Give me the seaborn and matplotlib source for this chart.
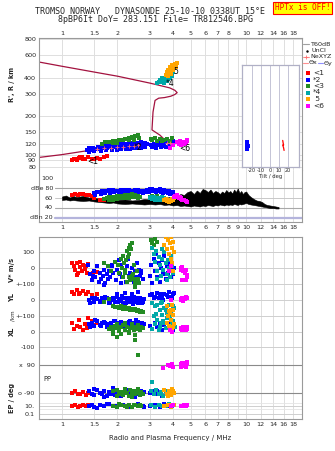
import numpy as np
import matplotlib
matplotlib.use("Agg")
import matplotlib.pyplot as plt
import seaborn as sns
from matplotlib.ticker import FixedLocator, FixedFormatter, NullLocator

sns.set_style("white")
plt.rcParams['font.family'] = ['DejaVu Sans']

# ---------------- data ----------------
xticks_main = [1, 1.5, 2, 3, 4, 5, 6, 7, 8, 10, 12, 14, 16, 18]
xticks_mid = [1, 1.5, 2, 3, 4, 5, 6, 7, 8, 9, 10, 12, 14, 16, 18]
r_ticks = [80, 90, 100, 120, 150, 200, 300, 400, 600, 800]

# true-height profile + topside model (R km vs plasma frequency MHz)
prof_f = [0.75, 1.0, 1.6, 2.0, 2.5, 3.0, 3.5, 3.75, 3.4, 3.08, 3.12, 3.2, 3.35, 3.6, 3.9, 4.1, 4.22,
          4.1, 3.85, 3.6, 3.0, 2.0, 1.6, 1.0, 0.75]
prof_h = [95, 100, 111, 114, 117, 120, 122, 124, 142, 156, 215, 265, 276, 279, 286, 295, 305,
          318, 332, 340, 362, 410, 434, 490, 529]

nexyz_f = [1.55, 1.7, 1.85, 2.0, 2.15, 2.3, 2.45, 2.6, 3.7, 3.85]
nexyz_r = [110, 112, 113, 114, 115, 116, 117, 118, 123, 124]

# virtual range R' (km)
red_f_top = [1.13, 1.16, 1.2, 1.24, 1.28, 1.3, 1.34, 1.38, 1.45, 1.5, 1.55, 1.6, 1.7, 1.75, 1.2, 1.26]
red_r_top = [91, 93, 92, 94, 95, 93, 92, 95, 93, 92, 94, 93, 96, 97, 90, 96]
blue_f_top = [1.4, 1.48, 1.56, 1.64, 1.72, 1.8, 1.88, 1.96, 2.04, 2.12, 2.2, 2.28, 2.36, 2.44, 2.52, 2.6, 2.68, 2.76, 2.84,
              1.36, 1.44, 1.52, 1.6, 1.68, 1.76, 1.84, 1.92, 2.0, 2.08, 2.16, 2.24, 2.32, 2.4, 2.48, 2.56, 2.64, 2.72, 2.8, 2.88,
              1.4, 1.5, 1.62, 1.74, 1.86, 1.98, 2.1, 2.22, 2.34, 2.46, 2.58, 2.7, 2.82,
              3.05, 3.1, 3.15, 3.2, 3.3, 3.4, 3.5, 3.6, 3.7, 3.8, 3.9, 4.0, 3.25, 3.45, 3.65, 3.85]
blue_r_top = [112, 113, 114, 116, 117, 118, 119, 120, 120, 121, 122, 122, 123, 124, 123, 124, 125, 124, 123,
              108, 109, 110, 111, 112, 113, 114, 114, 115, 116, 116, 117, 117, 118, 118, 119, 119, 120, 119, 120,
              105, 106, 107, 108, 108, 109, 110, 110, 111, 112, 112, 113, 114,
              118, 114, 122, 116, 119, 124, 117, 121, 125, 119, 126, 128, 112, 115, 114, 116]
green_f_top = [1.65, 1.72, 1.8, 1.9, 2.0, 2.05, 2.1, 2.15, 2.2, 2.25, 2.3, 2.35, 2.4, 2.45, 2.5, 2.55, 2.6, 2.62,
               2.3, 2.0, 2.45, 1.9, 3.05, 3.1, 3.2, 3.3, 3.4, 3.5, 3.6, 3.7, 3.85, 3.95]
green_r_top = [122, 126, 125, 128, 127, 130, 129, 131, 133, 132, 135, 134, 137, 136, 141, 139, 142, 136,
               130, 124, 131, 124, 133, 130, 136, 128, 132, 127, 130, 133, 128, 135]
cyan_f_top = [3.3, 3.35, 3.4, 3.45, 3.5, 3.55, 3.6, 3.65, 3.7, 3.75, 3.8, 3.85, 3.9, 3.95, 4.0, 3.6, 3.7]
cyan_r_top = [360, 372, 385, 368, 395, 378, 400, 385, 410, 392, 420, 400, 430, 415, 440, 365, 375]
orange_f_top = [3.65, 3.7, 3.75, 3.8, 3.85, 3.9, 3.95, 4.0, 4.05, 4.1, 4.15, 4.2, 3.75, 3.9]
orange_r_top = [420, 440, 460, 450, 480, 470, 500, 460, 490, 510, 480, 520, 410, 430]
mag_f_top = [4.2, 4.3, 4.35, 4.4, 4.5, 4.55, 4.6, 4.7, 4.75, 4.8, 3.85, 4.0]
mag_r_top = [125, 120, 128, 118, 122, 126, 120, 124, 130, 127, 112, 118]

# tilt inset
tilt_blue = [-26, -25, -26, -24.5, -25, -26, -25]
tilt_blue_r = [120, 118, 115, 112, 110, 107, 105]
tilt_red = [14, 14.5, 15, 14, 15, 15.5]
tilt_red_r = [124, 118, 114, 114, 108, 103]

# amplitude (dB)
noise_f = [1.0, 1.05, 1.1, 1.15, 1.2, 1.3, 1.4, 1.5, 1.6, 1.7, 1.8, 1.9, 2.0, 2.2, 2.4, 2.6, 2.8, 3.0, 3.2, 3.4,
           3.6, 3.8, 4.0, 4.2, 4.4, 4.6, 4.8, 5.0, 5.2, 5.4, 5.6, 5.8, 6.0, 6.2, 6.4, 6.6, 6.8, 7.0, 7.2, 7.4,
           7.6, 7.8, 8.0, 8.2, 8.4, 8.6, 8.8, 9.0, 9.2, 9.4, 9.6, 9.8, 10.0, 10.3, 10.6, 11.0, 11.4, 11.8, 12.2,
           12.6, 13.0, 13.5, 14.0, 14.5, 15.0]
noise_hi = [63, 65, 61, 64, 62, 64, 61, 60, 59, 58, 57, 58, 56, 57, 55, 56, 58, 57, 59, 60,
            58, 62, 60, 64, 68, 66, 72, 74, 68, 75, 70, 78, 76, 72, 77, 70, 74, 72, 68, 73,
            70, 76, 71, 74, 69, 77, 72, 79, 70, 74, 68, 72, 73, 66, 62, 58, 55, 54, 52,
            48, 46, 45, 44, 43, 42]
noise_lo = [56, 57, 55, 56, 55, 54, 55, 53, 52, 51, 50, 51, 49, 48, 49, 48, 47, 48, 47, 48,
            46, 47, 45, 46, 44, 45, 44, 43, 45, 44, 43, 45, 44, 46, 45, 44, 46, 45, 47, 46,
            45, 47, 46, 47, 46, 48, 47, 46, 48, 47, 48, 49, 50, 48, 47, 46, 45, 44, 43,
            42, 41, 40, 40, 39, 39]
red_f_db = [1.13, 1.18, 1.22, 1.26, 1.3, 1.35, 1.4, 1.45, 1.5, 1.6, 1.7]
red_db = [66, 68, 67, 69, 68, 66, 67, 65, 60, 57, 56]
blue_f_db = [1.5, 1.55, 1.6, 1.65, 1.7, 1.75, 1.8, 1.85, 1.9, 1.95, 2.0, 2.1, 2.2, 2.3, 2.4, 2.5, 2.6, 2.7, 2.8, 2.9,
             3.0, 3.1, 3.2, 3.3, 3.4, 3.5, 3.6, 3.7, 3.8, 3.9, 4.0,
             1.52, 1.62, 1.72, 1.82, 1.92, 2.05, 2.15, 2.25, 2.35, 2.45, 2.55, 2.65, 2.75, 2.85, 2.95,
             3.05, 3.15, 3.25, 3.35, 3.45, 3.55, 3.65, 3.75, 3.85, 3.95]
blue_db = [70, 72, 73, 74, 75, 74, 76, 75, 76, 74, 75, 76, 77, 76, 75, 77, 76, 75, 74, 76,
           78, 79, 77, 76, 78, 77, 76, 75, 74, 73, 72,
           67, 68, 70, 71, 72, 71, 73, 72, 74, 73, 72, 73, 71, 72, 73,
           74, 75, 73, 74, 72, 71, 73, 70, 69, 68]
green_f_db = [1.7, 1.75, 1.8, 1.85, 1.9, 1.95, 2.0, 2.05, 2.1, 2.15, 2.2, 2.25, 2.3, 2.35, 2.4, 2.45, 2.5, 2.55,
              2.6, 2.65, 1.8, 1.9, 2.0, 2.1, 2.2, 2.3, 2.4, 2.5, 2.6, 3.0, 3.1, 3.2, 3.3, 3.4, 3.5]
green_db = [58, 60, 62, 59, 63, 61, 64, 62, 65, 63, 66, 64, 67, 65, 68, 66, 67, 65,
            64, 62, 55, 57, 58, 60, 61, 60, 62, 63, 60, 63, 65, 62, 64, 60, 58]
cyan_f_db = [3.0, 3.05, 3.1, 3.15, 3.2, 3.25, 3.3, 3.35, 3.4, 3.45, 3.5, 3.55, 3.6]
cyan_db = [60, 62, 58, 63, 57, 61, 56, 60, 55, 59, 62, 57, 60]
orange_f_db = [3.6, 3.65, 3.7, 3.75, 3.8, 3.85, 3.9, 3.95, 4.0, 4.05]
orange_db = [55, 58, 54, 57, 52, 56, 53, 58, 55, 60]
mag_f_db = [4.05, 4.1, 4.15, 4.2, 4.25, 4.3, 4.35, 4.4, 4.45, 4.5, 4.6, 4.7, 4.8]
mag_db = [62, 65, 64, 66, 63, 60, 62, 58, 60, 57, 55, 54, 52]

# Doppler velocity V* (m/s)
red_f_v = [1.14, 1.16, 1.18, 1.2, 1.22, 1.25, 1.28, 1.3, 1.33, 1.35, 1.37, 1.38, 1.2, 1.26, 1.47, 1.55]
red_v = [35, 10, -15, 30, -30, 5, -20, 20, -5, 15, -35, 25, -45, 40, -30, -25]
blue_f_v = [1.38, 1.42, 1.45, 1.5, 1.52, 1.55, 1.58, 1.6, 1.63, 1.66, 1.7, 1.72, 1.75, 1.78, 1.8, 1.83, 1.86, 1.9,
            1.93, 1.96, 2.0, 2.03, 2.06, 2.1, 2.13, 2.16, 2.2, 2.23, 2.26, 2.3, 2.33, 2.36, 2.4, 2.43, 2.46, 2.5,
            2.53, 2.56, 2.6, 2.63, 2.66, 2.7, 2.74, 1.48, 1.68, 1.88, 2.08, 2.28, 2.48, 2.68,
            3.0, 3.05, 3.1, 3.15, 3.2, 3.25, 3.3, 3.35, 3.4, 3.45, 3.5, 3.55, 3.6, 3.65, 3.7, 3.75, 3.8, 3.85,
            3.9, 3.95, 4.0, 4.05]
blue_v = [20, -40, -80, -20, -60, 10, -90, -30, -70, -50, -10, -100, -40, -70, -20, -60, 10, -30,
          40, -80, -10, 50, -40, 20, -60, 30, -20, -90, 10, -50, -30, -70, 0, -40, -90, -20,
          -60, 30, -80, -10, -50, -30, -70, -50, -110, 20, -100, 60, -110, -20,
          -50, 20, -100, 60, -20, 90, -60, 30, -90, 0, 50, -40, 80, -70, 10, -30, 40, -10,
          -60, 20, -40, 0]
green_f_v = [1.7, 1.78, 1.85, 1.95, 2.02, 2.08, 2.12, 2.15, 2.18, 2.2, 2.22, 2.25, 2.28, 2.3, 2.32, 2.35, 2.38,
             2.4, 2.42, 2.45, 2.48, 2.5, 2.3, 2.26, 2.2, 2.35, 2.4, 2.15, 2.05, 2.45, 2.55, 2.6, 2.62,
             3.05, 3.1, 3.2, 3.3, 3.15]
green_v = [30, 10, -20, 40, 20, 60, 0, 80, 30, -30, 50, 110, 70, 130, 90, 150, 120,
           160, -40, -70, -100, -120, -60, -90, -10, -80, -50, -60, -30, 20, -20, -70, -100,
           180, 160, 190, 170, 150]
cyan_f_v = [3.1, 3.15, 3.2, 3.25, 3.3, 3.35, 3.4, 3.45, 3.5, 3.55, 3.6, 3.65, 3.7, 3.75, 3.8, 3.85, 3.9, 3.95,
            4.0, 3.3, 3.5, 3.7]
cyan_v = [130, 90, 40, 110, -20, 70, 20, -50, 60, -10, 100, 30, -40, 50, 0, -60, 80, 10, -30, -70, 120, -80]
orange_f_v = [3.6, 3.65, 3.7, 3.75, 3.8, 3.85, 3.9, 3.95, 4.0, 4.05, 3.9, 3.95, 4.0]
orange_v = [150, 200, 120, 180, 90, 160, 200, 130, 170, 100, 60, 30, -20]
mag_f_v = [4.4, 4.45, 4.5, 4.55, 4.6, 4.65, 4.7, 4.75, 4.8, 4.5, 4.7, 3.8, 3.9]
mag_v = [0, -10, 5, -20, -15, -30, -10, -45, -60, -80, -80, -20, 10]

# YL (km)
red_f_yl = [1.13, 1.16, 1.2, 1.23, 1.26, 1.3, 1.35, 1.38, 1.45, 1.55]
red_yl = [50, 40, 60, 35, 45, 55, 40, 50, 30, 35]
blue_f_yl = [1.4, 1.45, 1.5, 1.55, 1.6, 1.65, 1.7, 1.75, 1.8, 1.85, 1.9, 1.95, 2.0, 2.05, 2.1, 2.15, 2.2, 2.25,
             2.3, 2.35, 2.4, 2.45, 2.5, 2.55, 2.6, 2.65, 2.7, 2.75, 2.8,
             1.42, 1.52, 1.62, 1.72, 1.82, 1.92, 2.02, 2.12, 2.22, 2.32, 2.42, 2.52, 2.62, 2.72,
             2.0, 2.2, 2.4, 2.6,
             3.0, 3.1, 3.2, 3.3, 3.4, 3.5, 3.6, 3.7, 3.8, 3.9, 4.0, 4.05, 3.15, 3.35, 3.55, 3.75, 3.95]
blue_yl = [0, 10, -10, 5, -15, 10, -5, 15, -20, 0, 10, -10, 20, -5, 5, -20, 15, 0,
           -15, 10, -5, 20, -10, 5, -20, 10, 0, -15, 5,
           -20, 15, -5, 20, -10, 5, -15, 25, -20, 15, -25, 10, -5, -20,
           40, 45, 35, 50,
           30, 40, 20, 45, 35, 25, 40, 30, 50, 20, 35, 45, 10, 15, 0, 20, 10]
green_f_yl = [1.9, 1.95, 2.0, 2.05, 2.1, 2.15, 2.2, 2.25, 2.3, 2.35, 2.4, 2.45, 2.5, 2.55, 2.6, 2.65, 2.7, 2.75,
              2.1, 2.2, 2.3, 2.4, 2.5, 2.6, 1.7, 1.8]
green_yl = [-40, -45, -42, -50, -48, -55, -52, -58, -56, -62, -60, -65, -62, -68, -66, -72, -70, -75,
            -40, -45, -50, -55, -58, -60, -10, 5]
cyan_f_yl = [3.1, 3.2, 3.3, 3.4, 3.5, 3.6, 3.7, 3.8, 3.9, 4.0, 3.25, 3.45, 3.65, 3.85, 4.05]
cyan_yl = [-20, -40, -30, -60, -10, -50, -80, -30, -70, -40, -90, -20, -60, -100, -50]
orange_f_yl = [3.7, 3.8, 3.9, 4.0, 3.85, 3.95]
orange_yl = [-40, -70, -90, -60, -110, -30]
mag_f_yl = [4.4, 4.45, 4.5, 4.55, 4.6, 4.65, 4.7, 4.75, 4.8, 3.9]
mag_yl = [5, 0, 10, -5, 15, 5, 20, 10, 15, 0]

# XL (km)
red_f_xl = [1.13, 1.16, 1.2, 1.23, 1.26, 1.3, 1.33, 1.36, 1.38, 1.45, 1.5, 1.55]
red_xl = [60, 20, 40, 80, 30, 10, 50, 25, 90, 70, 45, 60]
blue_f_xl = [1.4, 1.45, 1.5, 1.55, 1.6, 1.65, 1.7, 1.75, 1.8, 1.85, 1.9, 1.95, 2.0, 2.05, 2.1, 2.15, 2.2, 2.25,
             2.3, 2.35, 2.4, 2.45, 2.5, 2.55, 2.6, 2.65, 2.7, 2.75, 2.8,
             1.42, 1.52, 1.62, 1.72, 1.82, 1.92, 2.02, 2.12, 2.22, 2.32, 2.42, 2.52, 2.62, 2.72,
             3.0, 3.1, 3.2, 3.3, 3.4, 3.5, 3.6, 3.7, 3.8, 3.9, 4.0]
blue_xl = [50, 60, 40, 70, 45, 55, 65, 35, 50, 60, 40, 70, 55, 45, 65, 50, 35, 60,
           45, 70, 55, 40, 60, 50, 65, 45, 55, 35, 50,
           30, 75, 40, 60, 35, 70, 40, 55, 30, 65, 45, 75, 35, 60,
           40, 20, 60, 30, 50, 10, 45, 25, 55, 35, 15]
green_f_xl = [1.8, 1.85, 1.9, 1.95, 2.0, 2.05, 2.1, 2.15, 2.2, 2.25, 2.3, 2.35, 2.4, 2.45, 2.5, 2.55, 2.6, 2.65,
              2.7, 2.75, 1.9, 2.0, 2.1, 2.2, 2.3, 2.4, 2.5, 2.6, 1.98, 2.5, 2.58]
green_xl = [20, 35, 10, 40, 25, 5, 30, 45, 15, 35, 0, 25, 40, 10, 30, 20, 45, 15,
            35, 25, -10, 50, -15, 55, -5, 50, -20, 40, -35, -50, -150]
cyan_f_xl = [3.1, 3.2, 3.3, 3.4, 3.5, 3.6, 3.7, 3.8, 3.9, 4.0, 4.1, 3.15, 3.35, 3.55, 3.75, 3.95, 3.45, 3.65, 3.85]
cyan_xl = [20, 50, 80, 30, 110, 60, 90, 40, 120, 70, 30, 100, 15, 70, 110, 50, 60, 25, 95]
orange_f_xl = [3.7, 3.75, 3.8, 3.85, 3.9, 3.95, 4.0, 4.05, 3.9, 4.0]
orange_xl = [60, 100, 40, 120, 80, 20, 110, 50, 140, 30]
mag_f_xl = [4.4, 4.45, 4.5, 4.55, 4.6, 4.65, 4.7, 4.75, 4.8, 3.85, 3.95]
mag_xl = [20, 25, 15, 30, 20, 25, 10, 30, 20, 10, 0]

# polarization PP (deg)
red_f_pp = [1.13, 1.18, 1.22, 1.26, 1.3, 1.35, 1.38]
red_pp = [-90, -80, -100, -95, -85, -105, -90]
blue_f_pp = [1.4, 1.45, 1.5, 1.55, 1.6, 1.65, 1.7, 1.75, 1.8, 1.85, 1.9, 1.95, 2.0, 2.1, 2.2, 2.3, 2.4, 2.5, 2.6,
             2.7, 2.8, 1.5, 1.7, 1.9, 2.1, 2.3, 2.5, 2.7, 3.0, 3.1, 3.2, 3.3, 3.5, 3.7, 3.9, 4.0]
blue_pp = [-80, -95, -105, -70, -90, -100, -75, -110, -85, -95, -70, -105, -85, -100, -75, -95, -110, -80, -100,
           -90, -85, -65, -115, -60, -110, -70, -115, -75, -90, -80, -100, -75, -110, -85, -95, -80]
green_f_pp = [1.9, 2.0, 2.05, 2.1, 2.15, 2.2, 2.25, 2.3, 2.35, 2.4, 2.45, 2.5, 2.55, 2.6, 2.65, 2.7, 2.75,
              2.0, 2.2, 2.4, 2.6]
green_pp = [-80, -70, -95, -85, -105, -75, -90, -110, -70, -95, -80, -100, -75, -90, -105, -85, -95,
            -110, -65, -115, -65]
cyan_f_pp = [3.05, 3.15, 3.25, 3.35, 3.45, 3.55, 3.65, 3.75, 3.85, 3.95, 3.1]
cyan_pp = [-80, -100, -70, -95, -85, -110, -75, -90, -100, -80, -20]
orange_f_pp = [3.6, 3.7, 3.8, 3.9, 4.0, 4.05, 3.75, 3.95]
orange_pp = [-70, -95, -80, -105, -75, -90, -110, -65]
mag_f_pp = [3.55, 3.75, 3.85, 3.95, 4.0, 4.4, 4.45, 4.5, 4.55, 4.6, 4.7, 4.75, 4.8, 4.65, 4.5]
mag_pp = [70, 90, 85, 95, 80, 80, 95, 85, 100, 90, 75, 95, 110, 85, 100]

# EP (deg)
red_f_ep = [1.13, 1.18, 1.22, 1.26, 1.3, 1.35, 1.38]
red_ep = [8, 15, 6, 12, 20, 9, 14]
blue_f_ep = [1.4, 1.45, 1.5, 1.6, 1.7, 1.8, 1.9, 2.0, 2.1, 2.2, 2.3, 2.4, 2.5, 2.6, 2.7, 2.8, 1.55, 1.75, 1.95,
             2.15, 2.35, 2.55, 2.75, 3.0, 3.2, 3.4, 3.6, 3.8, 4.0]
blue_ep = [10, 20, 6, 15, 8, 25, 12, 5, 18, 9, 22, 7, 14, 30, 10, 6, 4, 28, 8, 20, 5, 16, 12, 10, 18, 7, 25, 9, 14]
green_f_ep = [1.9, 2.0, 2.1, 2.2, 2.3, 2.4, 2.5, 2.6, 2.7, 2.05, 2.25, 2.45, 2.65]
green_ep = [12, 7, 20, 9, 15, 5, 18, 10, 8, 25, 6, 22, 14]
cyan_f_ep = [3.05, 3.2, 3.35, 3.5, 3.65, 3.8, 3.95]
cyan_ep = [15, 6, 20, 9, 12, 25, 8]
orange_f_ep = [3.6, 3.75, 3.9, 4.05, 3.85]
orange_ep = [10, 18, 6, 14, 22]
mag_f_ep = [3.9, 4.0, 4.4, 4.5, 4.6, 4.7, 4.75]
mag_ep = [10, 15, 12, 8, 14, 10, 16]

# ---------------- styling ----------------
C_RED, C_BLUE, C_GREEN = '#ff0000', '#0000ff', '#238b23'
C_CYAN, C_ORANGE, C_MAG = '#00a8a8', '#ffa500', '#ff00ff'
C_PROF = '#a3123f'
GRID = '#dedede'
SPINE = '#9a9a9a'
TFS = 4.6
MS = 6

W, H = 335, 451
fig = plt.figure(figsize=(3.35, 4.51), dpi=100)


def rect(x0, y0, x1, y1):
    return [x0 / W, 1 - y1 / H, (x1 - x0) / W, (y1 - y0) / H]


ax_top = fig.add_axes(rect(39, 38, 302, 170))
ax_db = fig.add_axes(rect(39, 170, 302, 222))
ax_bot = fig.add_axes(rect(39, 237, 302, 419))


def setup_x(ax, ticks, where):
    ax.set_xscale('log')
    ax.set_xlim(0.75, 20.1)
    ax.xaxis.set_major_locator(FixedLocator(ticks))
    ax.xaxis.set_major_formatter(FixedFormatter([('%g' % t) for t in ticks]))
    ax.xaxis.set_minor_locator(NullLocator())
    for xv in xticks_mid:
        ax.axvline(xv, color=GRID, lw=0.7, zorder=0)
    if where == 'top':
        ax.tick_params(axis='x', top=True, labeltop=True, bottom=False, labelbottom=False,
                       length=0, labelsize=TFS, pad=1.5)
    else:
        ax.tick_params(axis='x', length=0, labelsize=TFS, pad=2)
    for s in ax.spines.values():
        s.set_color(SPINE)
        s.set_linewidth(0.8)


def dots(ax, f, y, c, s=MS, m='s'):
    sns.scatterplot(x=list(f), y=list(y), color=c, marker=m, s=s, linewidth=0, ax=ax,
                    legend=False, zorder=3)


# ---- top panel: R' / R ----
setup_x(ax_top, xticks_main, 'top')
ax_top.set_yscale('log')
ax_top.set_ylim(75.8, 815)
ax_top.yaxis.set_major_locator(FixedLocator(r_ticks))
ax_top.yaxis.set_major_formatter(FixedFormatter([str(t) for t in r_ticks]))
ax_top.yaxis.set_minor_locator(NullLocator())
ax_top.tick_params(axis='y', length=0, labelsize=TFS, pad=2)
for rv in r_ticks:
    ax_top.axhline(rv, color=GRID, lw=0.7, zorder=0)
ax_top.spines['bottom'].set_visible(False)

sns.lineplot(x=prof_f, y=prof_h, sort=False, estimator=None, color=C_PROF, lw=0.9, ax=ax_top, zorder=2)
dots(ax_top, red_f_top, red_r_top, C_RED)
dots(ax_top, blue_f_top, blue_r_top, C_BLUE)
dots(ax_top, green_f_top, green_r_top, C_GREEN)
dots(ax_top, cyan_f_top, cyan_r_top, C_CYAN)
dots(ax_top, orange_f_top, orange_r_top, C_ORANGE)
dots(ax_top, mag_f_top, mag_r_top, C_MAG)
sns.scatterplot(x=nexyz_f, y=nexyz_r, color='#ff7070', marker='+', s=6, linewidth=0.6, ax=ax_top,
                legend=False, zorder=4)
for txt, fx, ry in [('<1', 1.47, 89), ('*2', 2.6, 113), ('*4', 3.85, 360), ('5', 4.15, 450), ('<6', 4.65, 112)]:
    ax_top.text(fx, ry, txt, fontsize=5.5, ha='center', va='center', color='black', zorder=5)

# tilt inset
ax_in = fig.add_axes(rect(242, 65, 299, 167))
ax_in.set_facecolor('white')
ax_in.set_yscale('log')
ax_in.set_ylim(ax_top.get_ylim()[0], 10 ** (2.903 - 26 / 128))
ax_in.set_xlim(-31, 32)
ax_in.set_yticks([])
ax_in.yaxis.set_minor_locator(NullLocator())
ax_in.set_xticks([-20, -10, 0, 10, 20])
ax_in.set_xticklabels(['-20', '-10', '0', '10', '20'])
ax_in.tick_params(axis='x', length=0, labelsize=3.6, pad=0.8)
ax_in.set_xlabel('Tilt / deg', fontsize=3.8, labelpad=0.3)
for tv in [-20, -10, 0, 10, 20]:
    ax_in.axvline(tv, color='#c4c4d6', lw=0.7, zorder=0)
for s in ax_in.spines.values():
    s.set_color('#b0b0c6')
    s.set_linewidth(0.9)
dots(ax_in, tilt_blue, tilt_blue_r, C_BLUE, s=5)
sns.lineplot(x=tilt_red, y=tilt_red_r, sort=False, estimator=None, color=C_RED, lw=0.9, ax=ax_in)

# ---- dB panel ----
setup_x(ax_db, xticks_mid, 'bottom')
ax_db.set_ylim(12, 116)
ax_db.set_yticks([])
ax_db.spines['top'].set_visible(False)
for dv, col, lw in [(80, '#a8a8a8', 0.8), (60, '#c8c8c8', 0.7), (40, '#a8a8a8', 0.8), (20, '#b4b4dc', 1.6)]:
    ax_db.axhline(dv, xmin=0.06, color=col, lw=lw, zorder=1)
for lab, dv in [('100', 100), ('dBe 80', 80), ('60', 60), ('40', 40), ('dBn 20', 20)]:
    ax_db.text(0.053, dv, lab, transform=ax_db.get_yaxis_transform(), ha='right', va='center',
               fontsize=TFS, zorder=6)
ax_db.fill_between(noise_f, noise_lo, noise_hi, color='black', lw=0.4, zorder=2)
dots(ax_db, red_f_db, red_db, C_RED)
dots(ax_db, blue_f_db, blue_db, C_BLUE)
dots(ax_db, green_f_db, green_db, C_GREEN)
dots(ax_db, cyan_f_db, cyan_db, C_CYAN)
dots(ax_db, orange_f_db, orange_db, C_ORANGE)
dots(ax_db, mag_f_db, mag_db, C_MAG)

# ---- bottom panel: V*, YL, XL, PP, EP stacked ----
setup_x(ax_bot, xticks_main, 'bottom')
ax_bot.set_ylim(419, 237)


def v_y(v):
    return 268 - 0.155 * np.asarray(v, dtype=float)


def yl_y(v):
    return 300 - 0.16 * np.asarray(v, dtype=float)


def xl_y(v):
    return 332 - 0.155 * np.asarray(v, dtype=float)


def pp_y(v):
    return 379 - 0.155 * np.asarray(v, dtype=float)


def ep_y(v):
    return 406 - 4.0 * np.log10(np.asarray(v, dtype=float) / 10.0)


band_pos = [252.5, 268, 284, 300, 316, 332, 347.3, 365, 393, 406, 414]
band_lab = ['100', '0', '+-100', '0', '+-100', '0', '-100', 'x  90', 'o -90', '10.', '0.1']
ax_bot.yaxis.set_major_locator(FixedLocator(band_pos))
ax_bot.yaxis.set_major_formatter(FixedFormatter(band_lab))
ax_bot.tick_params(axis='y', length=0, labelsize=TFS, pad=3)
for yp in band_pos:
    dark = yp in (365, 393)
    ax_bot.axhline(yp, color='#8a8a8a' if dark else '#cfcfcf', lw=0.8 if dark else 0.7, zorder=0)
ax_bot.axhline(403.5, color='#e4e4e4', lw=0.6, zorder=0)
ax_bot.axhline(409, color='#e4e4e4', lw=0.6, zorder=0)
ax_bot.text(0.015, 379, 'PP', transform=ax_bot.get_yaxis_transform(), fontsize=4.8, va='center')

for fsrc, vals, fn in [
    ((red_f_v, blue_f_v, green_f_v, cyan_f_v, orange_f_v, mag_f_v), (red_v, blue_v, green_v, cyan_v, orange_v, mag_v), v_y),
    ((red_f_yl, blue_f_yl, green_f_yl, cyan_f_yl, orange_f_yl, mag_f_yl), (red_yl, blue_yl, green_yl, cyan_yl, orange_yl, mag_yl), yl_y),
    ((red_f_xl, blue_f_xl, green_f_xl, cyan_f_xl, orange_f_xl, mag_f_xl), (red_xl, blue_xl, green_xl, cyan_xl, orange_xl, mag_xl), xl_y),
    ((red_f_pp, blue_f_pp, green_f_pp, cyan_f_pp, orange_f_pp, mag_f_pp), (red_pp, blue_pp, green_pp, cyan_pp, orange_pp, mag_pp), pp_y),
    ((red_f_ep, blue_f_ep, green_f_ep, cyan_f_ep, orange_f_ep, mag_f_ep), (red_ep, blue_ep, green_ep, cyan_ep, orange_ep, mag_ep), ep_y),
]:
    for f, v, c in zip(fsrc, vals, [C_RED, C_BLUE, C_GREEN, C_CYAN, C_ORANGE, C_MAG]):
        dots(ax_bot, f, fn(v), c)

ax_bot.set_xlabel('Radio and Plasma Frequency / MHz', fontsize=5.0, labelpad=6)

# ---- figure texts, labels, legend ----
ov = fig.add_axes([0, 0, 1, 1])
ov.set_xlim(0, W)
ov.set_ylim(H, 0)
ov.axis('off')

ov.text(150, 12, 'TROMSO NORWAY   DYNASONDE 25-10-10 0338UT 15\u00b0E', family='DejaVu Sans Mono',
        fontsize=6.0, ha='center', va='center')
ov.text(156, 20, '8pBP6It DoY= 283.151 File= TR812546.BPG', family='DejaVu Sans Mono',
        fontsize=6.0, ha='center', va='center')
ov.text(302.5, 8, 'HPTx is OFF!', family='DejaVu Sans Mono', fontsize=5.6, color='#ff0000',
        ha='center', va='center',
        bbox=dict(boxstyle='square,pad=0.25', facecolor='#ffff00', edgecolor='#ff0000', lw=0.8))

lab_kw = dict(fontsize=4.8, fontweight='bold', rotation=90, ha='center', va='center')
ov.text(12, 84, "R', R / km", **lab_kw)
ov.text(12, 270, 'V* m/s', **lab_kw)
ov.text(12, 297, 'YL', **lab_kw)
ov.text(12, 331, 'XL', **lab_kw)
ov.text(12, 398, 'EP / deg', **lab_kw)
ov.text(13, 315.5, '/km', fontsize=4.0, rotation=90, ha='center', va='center')

lg = dict(fontsize=4.6, ha='left', va='center')
ov.plot([302.5, 308.5], [44, 44], color='#a0a0a0', lw=0.8)
ov.text(310, 44, 'T60dB', **lg)
ov.plot([307], [51], marker='.', color='black', ms=1.5)
ov.text(312, 51, 'UnCl', **lg)
ov.plot([302.5, 309], [57, 57], color='#ff9a9a', lw=0.8)
ov.plot([306], [57], marker='+', color='#ff7070', ms=3, mew=0.6)
ov.text(310, 57, 'NeXYZ', **lg)
ov.plot([302.5, 308], [63, 63], color='#ff9090', lw=0.8)
ov.text(309, 63, '\u0398x', **lg)
ov.plot([317.5, 323], [63, 63], color='#9090ff', lw=0.8)
ov.text(324, 63, '\u0398y', **lg)
for yy, c, t in zip([73, 79.5, 86, 92.5, 99, 105.5],
                    [C_RED, C_BLUE, C_GREEN, C_CYAN, C_ORANGE, C_MAG],
                    ['<1', '*2', '<3', '*4', ' 5', '<6']):
    ov.plot([308], [yy], marker='s', color=c, ms=2.2, mew=0)
    ov.text(313, yy, t, fontsize=5.4, ha='left', va='center')

fig.savefig('out.png', dpi=100)
